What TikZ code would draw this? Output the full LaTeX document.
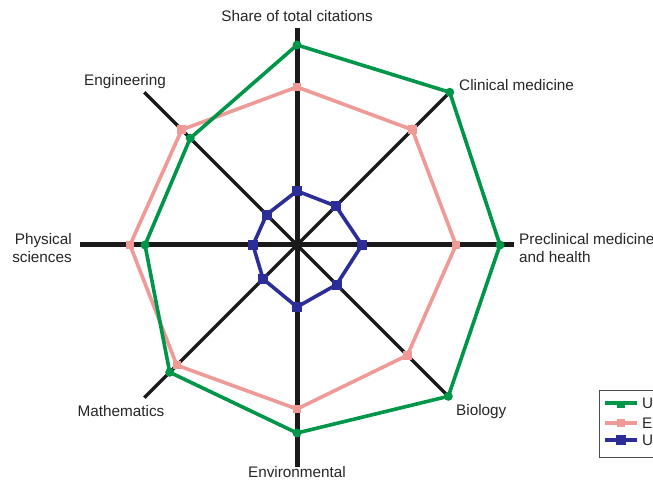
\documentclass[tikz,border=0pt]{standalone}
\usepackage{fontspec}
\setmainfont{Liberation Sans}
\definecolor{cgreen}{HTML}{00964A}
\definecolor{cpink}{HTML}{F09A98}
\definecolor{cblue}{HTML}{2B2E96}
\definecolor{caxis}{HTML}{1A1A1A}
\begin{document}
\begin{tikzpicture}[x=1pt,y=1pt,
  axmain/.style={draw=caxis,line width=5pt},
  axdiag/.style={draw=caxis,line width=3.5pt},
  series/.style={line width=3.6pt,line join=round},
  gmark/.style={fill=cgreen,circle,inner sep=0pt,minimum size=9pt},
  pmark/.style={fill=cpink,rectangle,inner sep=0pt,minimum size=8.5pt},
  bmark/.style={fill=cblue,rectangle,inner sep=0pt,minimum size=10pt},
  lab/.style={font=\fontsize{15.3}{18}\selectfont,text=black!85,inner sep=0pt}]
\useasboundingbox (0,0) rectangle (653,481);
\fill[white] (0,0) rectangle (653,481);
\begin{scope}[shift={(297,236)}]
  \coordinate (c) at (0,0);
  % axes
  \coordinate (aN) at (90:217);
  \coordinate (aS) at (-90:222);
  \coordinate (aW) at (180:217);
  \coordinate (aE) at (0:217);
  \coordinate (aNW) at (135:216);
  \coordinate (aSE) at (-45:216);
  \coordinate (aNE) at (45:216);
  \coordinate (aSW) at (-135:216);
  \draw[axdiag] (aNW) -- (aSE);
  \draw[axdiag] (aNE) -- (aSW);
  \draw[axmain] (aN) -- (aS);
  \draw[axmain] (aW) -- (aE);
  % series: angles 90,45,0,-45,-90,-135,180,135
  \foreach \s/\col/\mk/\vals in {
    p/cpink/pmark/{158,163,159,156,164,170,167,163},
    g/cgreen/gmark/{200,216,203,214,188,180,152,151},
    b/cblue/bmark/{54,55,65,56,62,48,44,43}}{
    \foreach \r [count=\i from 0] in \vals {
      \coordinate (\s\i) at ({90-45*\i}:\r);
    }
    \draw[series,draw=\col] (\s0) -- (\s1) -- (\s2) -- (\s3) -- (\s4) -- (\s5) -- (\s6) -- (\s7) -- cycle;
    \foreach \i in {0,...,7} { \node[\mk] (\s m\i) at (\s\i) {}; }
  }
\end{scope}
% labels
\node[lab] (lN) at (297,465) {Share of total citations};
\node[lab,anchor=west] (lNE) at (459,396) {Clinical medicine};
\node[lab,anchor=west,align=left] (lE) at (519,233) {Preclinical medicine\\and health};
\node[lab] (lNW) at (125,399) {Engineering};
\node[lab,anchor=east,align=right] (lW) at (72,233) {Physical\\sciences};
\node[lab] (lSW) at (121,70) {Mathematics};
\node[lab,anchor=west] (lSE) at (456,69) {Biology};
\node[lab] (lS) at (297,9) {Environmental};
% legend
\draw[line width=0.8pt,draw=black!70] (599,91) rectangle (665,24);
\draw[line width=3.6pt,cgreen] (605,78) -- (637,78);
\node[fill=cgreen,inner sep=0pt,minimum width=8pt,minimum height=7pt] (lg) at (621,76) {};
\draw[line width=3.6pt,cpink] (605,58) -- (637,58);
\node[pmark] (lp) at (621,58) {};
\draw[line width=3.6pt,cblue] (605,41) -- (637,41);
\node[bmark] (lb) at (621,41) {};
\node[lab,anchor=west] (tg) at (642,78) {U};
\node[lab,anchor=west] (tp) at (642,58) {E};
\node[lab,anchor=west] (tb) at (642,41) {U};
\end{tikzpicture}
\end{document}
